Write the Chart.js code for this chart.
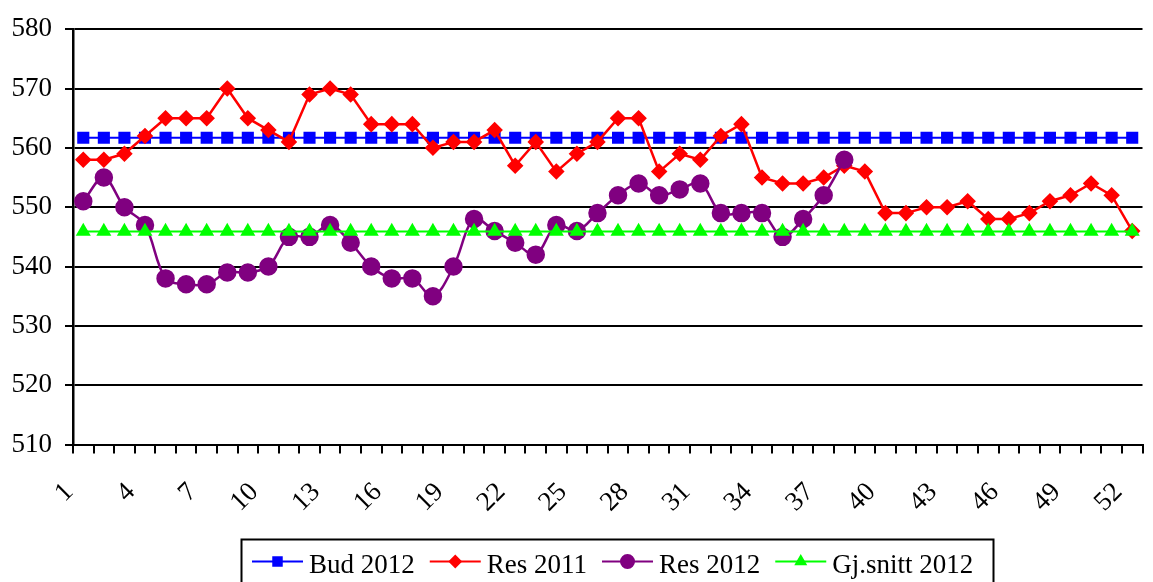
<!DOCTYPE html>
<html>
<head>
<meta charset="utf-8">
<script src="https://cdn.jsdelivr.net/npm/chart.js@4/dist/chart.umd.min.js"></script>
<style>
  html, body { margin: 0; padding: 0; background: #fff; }
  #wrap { width: 1153px; height: 582px; position: relative; }
</style>
</head>
<body>
<div id="wrap"><canvas id="grafik"></canvas></div>
<script>
// uker 1..52
const uker = [];
for (let i = 1; i <= 52; i++) uker.push(String(i));

const bud2012 = [561.7, 561.7, 561.7, 561.7, 561.7, 561.7, 561.7, 561.7, 561.7, 561.7,
                 561.7, 561.7, 561.7, 561.7, 561.7, 561.7, 561.7, 561.7, 561.7, 561.7,
                 561.7, 561.7, 561.7, 561.7, 561.7, 561.7, 561.7, 561.7, 561.7, 561.7,
                 561.7, 561.7, 561.7, 561.7, 561.7, 561.7, 561.7, 561.7, 561.7, 561.7,
                 561.7, 561.7, 561.7, 561.7, 561.7, 561.7, 561.7, 561.7, 561.7, 561.7,
                 561.7, 561.7];

const res2011 = [558, 558, 559, 562, 565, 565, 565, 570, 565, 563,
                 561, 569, 570, 569, 564, 564, 564, 560, 561, 561,
                 563, 557, 561, 556, 559, 561, 565, 565, 556, 559,
                 558, 562, 564, 555, 554, 554, 555, 557, 556, 549,
                 549, 550, 550, 551, 548, 548, 549, 551, 552, 554,
                 552, 546];

const res2012 = [551, 555, 550, 547, 538, 537, 537, 539, 539, 540,
                 545, 545, 547, 544, 540, 538, 538, 535, 540, 548,
                 546, 544, 542, 547, 546, 549, 552, 554, 552, 553,
                 554, 549, 549, 549, 545, 548, 552, 558];

const snitt2012 = [545.9, 545.9, 545.9, 545.9, 545.9, 545.9, 545.9, 545.9, 545.9, 545.9,
                   545.9, 545.9, 545.9, 545.9, 545.9, 545.9, 545.9, 545.9, 545.9, 545.9,
                   545.9, 545.9, 545.9, 545.9, 545.9, 545.9, 545.9, 545.9, 545.9, 545.9,
                   545.9, 545.9, 545.9, 545.9, 545.9, 545.9, 545.9, 545.9, 545.9, 545.9,
                   545.9, 545.9, 545.9, 545.9, 545.9, 545.9, 545.9, 545.9, 545.9, 545.9,
                   545.9, 545.9];

const yMin = 510, yMax = 580, yStep = 10;

const skrift = "'Liberation Serif', 'Times New Roman', serif";

// egen legende med linje + markør, som i Excel
const legendePlugin = {
  id: 'legende',
  afterDraw(chart) {
    const ctx = chart.ctx;
    ctx.save();
    ctx.lineWidth = 2;
    ctx.strokeStyle = '#000';
    ctx.strokeRect(241.5, 539.5, 752, 60);

    ctx.font = '27px ' + skrift;
    ctx.textBaseline = 'alphabetic';
    let x = 252;
    const yLinje = 561.5;
    chart.data.datasets.forEach(ds => {
      ctx.strokeStyle = ds.borderColor;
      ctx.lineWidth = 2;
      ctx.beginPath();
      ctx.moveTo(x, yLinje);
      ctx.lineTo(x + 51, yLinje);
      ctx.stroke();
      Chart.helpers.drawPoint(ctx, {
        pointStyle: ds.pointStyle,
        radius: ds.legendRadius,
        borderWidth: 1
      }, x + 25.5, yLinje);
      ctx.fillStyle = ds.pointBackgroundColor;
      ctx.fill();
      ctx.fillStyle = '#000';
      ctx.fillText(ds.label, x + 57, 572.5);
      x += 57 + ctx.measureText(ds.label).width + 15;
    });
    ctx.restore();
  }
};

const ctx = document.getElementById('grafik').getContext('2d');

new Chart(ctx, {
  type: 'line',
  data: {
    labels: uker,
    datasets: [
      {
        label: 'Bud 2012',
        data: bud2012,
        borderColor: '#0000FF',
        backgroundColor: '#0000FF',
        pointBackgroundColor: '#0000FF',
        pointBorderColor: '#0000FF',
        borderWidth: 2.2,
        pointStyle: 'rect',
        pointRadius: 7,
        legendRadius: 6,
        tension: 0,
        order: 4
      },
      {
        label: 'Res 2011',
        data: res2011,
        borderColor: '#FF0000',
        backgroundColor: '#FF0000',
        pointBackgroundColor: '#FF0000',
        pointBorderColor: '#FF0000',
        borderWidth: 2.5,
        pointStyle: 'rectRot',
        pointRadius: 6.5,
        legendRadius: 5.5,
        tension: 0,
        order: 3
      },
      {
        label: 'Res 2012',
        data: res2012,
        borderColor: '#800080',
        backgroundColor: '#800080',
        pointBackgroundColor: '#800080',
        pointBorderColor: '#800080',
        borderWidth: 2.5,
        pointStyle: 'circle',
        pointRadius: 8,
        legendRadius: 6.5,
        tension: 0.35,
        order: 2
      },
      {
        label: 'Gj.snitt 2012',
        data: snitt2012,
        borderColor: '#00FF00',
        backgroundColor: '#00FF00',
        pointBackgroundColor: '#00FF00',
        pointBorderColor: '#00FF00',
        borderWidth: 2.2,
        pointStyle: 'triangle',
        pointRadius: 6.5,
        legendRadius: 5.5,
        tension: 0,
        order: 1
      }
    ]
  },
  options: {
    responsive: true,
    maintainAspectRatio: false,
    animation: false,
    layout: { padding: { top: 26, right: 9, left: 0, bottom: 0 } },
    plugins: {
      legend: { display: false },
      tooltip: { enabled: false }
    },
    scales: {
      x: {
        offset: true,
        afterFit: s => {
          s.height = 137.5;
          s.paddingLeft = 0;
          s.paddingRight = 0;
        },
        grid: {
          display: true,
          drawOnChartArea: false,
          offset: true,
          color: '#000',
          lineWidth: 2,
          tickLength: 9
        },
        border: { display: true, color: '#000', width: 2 },
        ticks: {
          autoSkip: false,
          minRotation: 45,
          maxRotation: 45,
          padding: 23,
          labelOffset: -14,
          color: '#000',
          font: { family: skrift, size: 27 },
          callback: function (val, i) { return i % 3 === 0 ? uker[i] : ''; }
        }
      },
      y: {
        min: yMin,
        max: yMax,
        afterFit: s => { s.width = 73; },
        grid: {
          color: '#000',
          lineWidth: 2,
          tickLength: 8
        },
        border: { display: true, color: '#000', width: 2.5 },
        ticks: {
          stepSize: yStep,
          padding: 13,
          color: '#000',
          font: { family: skrift, size: 27 }
        }
      }
    }
  },
  plugins: [legendePlugin]
});
</script>
</body>
</html>
